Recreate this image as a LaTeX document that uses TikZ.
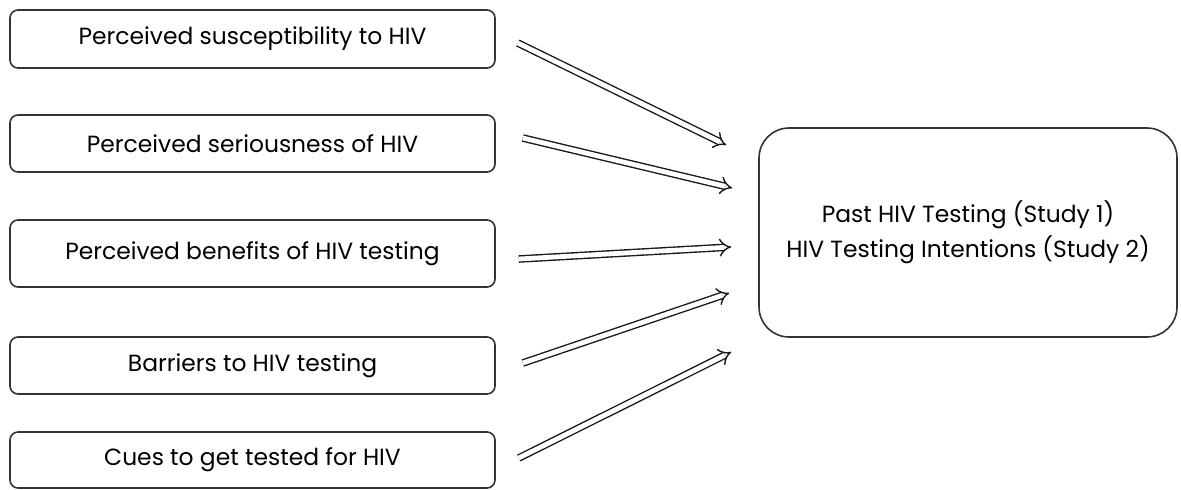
\documentclass[tikz,border=0pt]{standalone}
\usepackage{fontspec}
\setmainfont{Poppins}
\usetikzlibrary{arrows.meta}
\tikzset{
  factor/.style={draw=black!80,line width=0.8pt,rounded corners=4pt,minimum width=242.5pt,inner sep=0pt,font=\fontsize{11.7}{14}\selectfont},
  outcome/.style={draw=black!80,line width=0.8pt,rounded corners=15pt,minimum width=209pt,minimum height=104.5pt,align=center,font=\fontsize{11.7}{17.5}\selectfont},
  hollow/.style={double=white,double distance=2.4pt,line width=0.7pt,draw=black!90,-{Implies}},
}
\begin{document}
\begin{tikzpicture}[x=0.5pt,y=-0.5pt]
\useasboundingbox (0,0) rectangle (1181,489);
% left boxes: name/centre y/height/label
\foreach \kn/\ky/\kh/\klb in {p1/39/58/{Perceived susceptibility to HIV},p2/143.5/57/{Perceived seriousness of HIV},p3/253.5/67/{Perceived benefits of HIV testing},p4/365.5/57/{Barriers to HIV testing},p5/460/56/{Cues to get tested for HIV}}{
\node[factor,minimum height=\kh*0.5pt](\kn) at (252.5,\ky){\klb};}
\node[outcome](res) at (968,232.5){Past HIV Testing (Study 1)\\HIV Testing Intentions (Study 2)};
% arrows
\foreach \kn/\sx/\sy/\tx/\ty in {p1/22/4/-32/-87.5,p2/27/-5.5/-26/-44.5,p3/23/5.5/-27/14.5,p4/27/-2.5/-29/60.5,p5/23/-2/-27/119.5}{
\draw[hollow]([shift={(\sx,\sy)}]\kn.east)--([shift={(\tx,\ty)}]res.west);}
\end{tikzpicture}
\end{document}
